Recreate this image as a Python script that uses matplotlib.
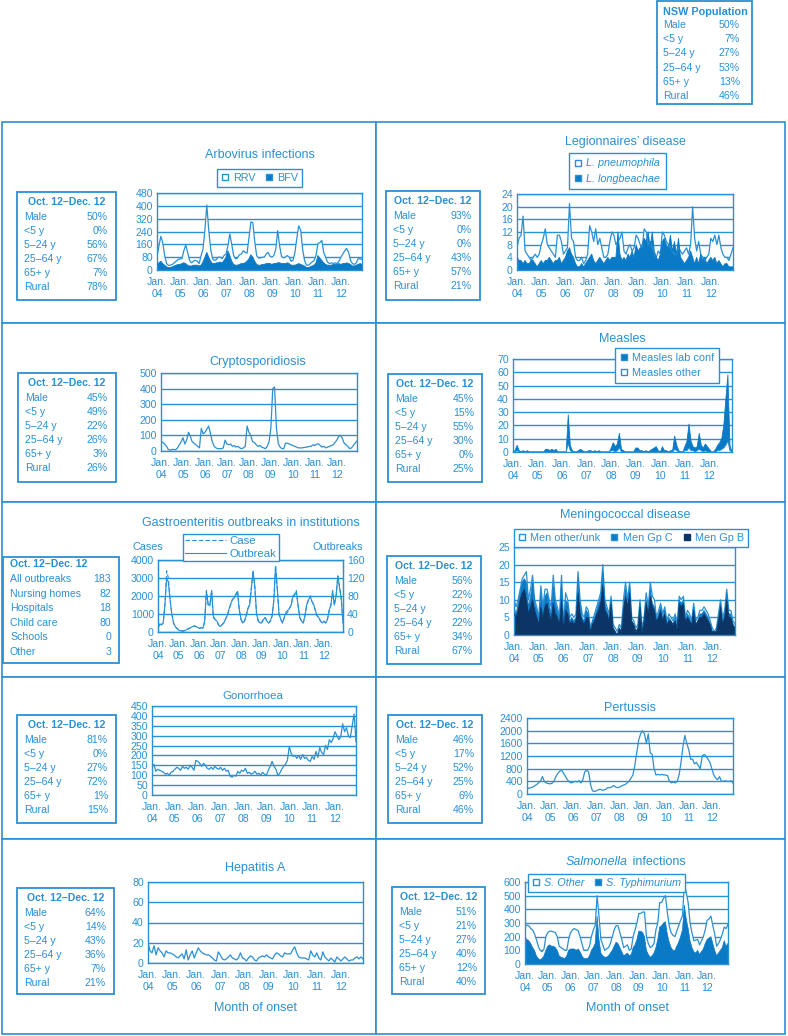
import numpy as np
import matplotlib
matplotlib.use('Agg')
import matplotlib.pyplot as plt
from matplotlib.lines import Line2D
from matplotlib.patches import Rectangle

plt.rcParams['font.family'] = ['Liberation Sans', 'DejaVu Sans']

# ---------------------------------------------------------------- data
years = ['04', '05', '06', '07', '08', '09', '10', '11', '12']
months = np.arange(108)

stat_rows = ['Male', '<5 y', '5–24 y', '25–64 y', '65+ y', 'Rural']
gastro_rows = ['All outbreaks', 'Nursing homes', 'Hospitals', 'Child care',
               'Schools', 'Other']

nsw_pop = ['50%', '7%', '27%', '53%', '13%', '46%']
arbo_stats = ['50%', '0%', '56%', '67%', '7%', '78%']
legion_stats = ['93%', '0%', '0%', '43%', '57%', '21%']
crypto_stats = ['45%', '49%', '22%', '26%', '3%', '26%']
measles_stats = ['45%', '15%', '55%', '30%', '0%', '25%']
gastro_stats = ['183', '82', '18', '80', '0', '3']
mening_stats = ['56%', '22%', '22%', '22%', '34%', '67%']
gono_stats = ['81%', '0%', '27%', '72%', '1%', '15%']
pert_stats = ['46%', '17%', '52%', '25%', '6%', '46%']
hepa_stats = ['64%', '14%', '43%', '36%', '7%', '21%']
salm_stats = ['51%', '21%', '27%', '40%', '12%', '40%']

# monthly counts, Jan 2004 - Dec 2012
rrv = [80, 150, 210, 170, 90, 40, 28, 30, 35, 45, 55, 65,
       70, 70, 120, 155, 110, 60, 45, 55, 60, 55, 40, 90,
       130, 250, 405, 250, 130, 70, 60, 65, 80, 80, 70, 90,
       100, 150, 225, 160, 90, 70, 75, 95, 100, 120, 110, 105,
       200, 300, 295, 180, 90, 75, 75, 80, 80, 100, 110, 85,
       80, 90, 130, 245, 150, 85, 75, 80, 90, 80, 55, 60,
       110, 200, 275, 250, 130, 60, 30, 30, 40, 50, 60, 90,
       165, 170, 185, 110, 80, 50, 40, 45, 40, 45, 40, 55,
       80, 100, 120, 135, 110, 60, 40, 35, 45, 70, 70, 65]
bfv = [30, 45, 55, 40, 30, 20, 15, 15, 20, 25, 30, 35,
       35, 40, 45, 40, 30, 25, 25, 30, 30, 30, 25, 30,
       50, 80, 110, 80, 55, 40, 40, 45, 45, 50, 45, 60,
       80, 120, 90, 55, 35, 30, 30, 35, 40, 40, 45, 55,
       70, 95, 80, 55, 35, 30, 30, 35, 35, 40, 40, 40,
       35, 40, 40, 45, 45, 40, 40, 40, 45, 40, 30, 30,
       30, 35, 40, 35, 30, 25, 15, 15, 20, 25, 30, 45,
       90, 75, 60, 45, 35, 30, 30, 30, 35, 35, 35, 40,
       35, 40, 40, 45, 40, 35, 25, 25, 30, 35, 40, 35]

l_pneumophila = [7, 10, 11, 17, 6, 5, 4, 3, 4, 5, 4, 5,
                 8, 10, 13, 8, 7, 6, 5, 4, 11, 11, 9, 5,
                 6, 7, 21, 10, 9, 4, 3, 3, 4, 2, 3, 5,
                 14, 12, 9, 13, 8, 10, 7, 4, 4, 5, 9, 12,
                 11, 8, 9, 10, 12, 6, 5, 7, 8, 6, 7, 11,
                 10, 8, 7, 13, 12, 8, 9, 7, 5, 4, 6, 5,
                 12, 11, 9, 8, 7, 6, 5, 5, 7, 6, 5, 6,
                 7, 5, 8, 20, 10, 6, 9, 5, 4, 3, 4, 5,
                 10, 9, 11, 8, 11, 7, 5, 4, 4, 3, 5, 7]
l_longbeachae = [4, 3, 3, 2, 3, 2, 2, 3, 3, 2, 1, 2,
                 3, 2, 3, 3, 4, 3, 2, 3, 3, 4, 2, 3,
                 4, 6, 7, 5, 4, 2, 1, 1, 2, 1, 2, 3,
                 4, 5, 3, 2, 3, 4, 3, 2, 3, 4, 3, 4,
                 4, 4, 12, 5, 3, 4, 3, 5, 4, 6, 4, 8,
                 6, 7, 8, 10, 9, 12, 7, 12, 6, 4, 3, 5,
                 9, 10, 8, 7, 11, 6, 9, 5, 10, 4, 3, 2,
                 3, 4, 6, 4, 2, 4, 2, 5, 3, 4, 2, 3,
                 4, 3, 4, 2, 3, 2, 1, 2, 2, 1, 1, 1]

crypto = [60, 55, 45, 30, 10, 5, 10, 10, 8, 20, 40, 60,
          85, 45, 70, 120, 95, 60, 50, 40, 30, 20, 145, 110,
          120, 140, 160, 110, 60, 30, 20, 15, 15, 15, 20, 70,
          45, 40, 45, 30, 35, 25, 30, 20, 15, 20, 30, 160,
          120, 100, 60, 55, 40, 30, 35, 25, 20, 15, 30, 60,
          150, 400, 410, 150, 50, 25, 15, 15, 50, 50, 45, 40,
          35, 30, 25, 20, 20, 20, 22, 25, 25, 30, 30, 40,
          35, 45, 45, 35, 25, 30, 20, 25, 30, 35, 40, 55,
          70, 95, 100, 80, 50, 40, 30, 15, 20, 35, 50, 65]

measles_lab = [0, 1, 5, 1, 0, 1, 0, 1, 0, 0, 0, 0,
               0, 0, 0, 0, 2, 2, 1, 2, 1, 2, 0, 0,
               0, 0, 0, 28, 5, 1, 0, 0, 1, 2, 1, 0,
               0, 1, 1, 0, 1, 0, 1, 0, 0, 0, 0, 0,
               3, 7, 4, 6, 14, 2, 1, 0, 0, 0, 0, 0,
               3, 3, 1, 1, 0, 1, 0, 1, 2, 3, 4, 1,
               0, 4, 1, 1, 0, 1, 1, 12, 5, 1, 0, 0,
               4, 8, 21, 8, 4, 3, 4, 14, 5, 3, 6, 4,
               2, 0, 0, 2, 5, 7, 10, 20, 40, 58, 5, 0]
measles_other = [0, 0, 1, 0, 0, 0, 0, 0, 0, 0, 0, 0,
                 0, 0, 0, 0, 0, 0, 0, 0, 0, 0, 0, 0,
                 0, 0, 0, 6, 1, 0, 0, 0, 0, 0, 0, 0,
                 0, 0, 0, 0, 0, 0, 0, 0, 0, 0, 0, 0,
                 1, 1, 0, 1, 3, 0, 0, 0, 0, 0, 0, 0,
                 0, 0, 0, 0, 0, 0, 0, 0, 0, 0, 0, 0,
                 0, 0, 0, 0, 0, 0, 0, 2, 1, 0, 0, 0,
                 1, 1, 3, 1, 1, 0, 1, 2, 1, 0, 1, 0,
                 0, 0, 0, 0, 1, 1, 2, 3, 5, 8, 1, 0]

gastro_cases = [200, 500, 400, 500, 1500, 3400, 3000, 1800, 1000, 500, 300, 200,
                100, 80, 50, 60, 100, 150, 200, 250, 300, 350, 300, 250,
                200, 250, 200, 600, 2300, 1500, 1500, 2300, 800, 700, 600, 400,
                300, 400, 500, 700, 900, 1200, 1500, 1800, 1900, 2100, 2300, 1200,
                700, 500, 600, 900, 1300, 1600, 2500, 3400, 2500, 1000, 600, 500,
                500, 700, 800, 600, 500, 600, 900, 1800, 3700, 2400, 1000, 700,
                500, 800, 1000, 1100, 1300, 1500, 2000, 2100, 2300, 1500, 800, 600,
                500, 900, 1500, 1800, 2000, 1700, 1500, 1200, 900, 800, 600, 500,
                600, 500, 700, 1200, 1500, 2300, 1500, 2000, 3100, 2500, 1800, 500]
gastro_outbreaks = [8, 18, 16, 20, 60, 120, 110, 70, 40, 20, 12, 8,
                    4, 3, 2, 3, 4, 6, 8, 10, 12, 13, 12, 10,
                    8, 10, 8, 25, 90, 62, 58, 92, 35, 28, 25, 16,
                    12, 16, 20, 28, 36, 50, 62, 72, 76, 82, 90, 50,
                    28, 20, 24, 36, 52, 60, 95, 135, 100, 40, 24, 20,
                    22, 28, 32, 24, 20, 25, 36, 70, 145, 95, 40, 28,
                    20, 32, 44, 48, 52, 60, 78, 82, 90, 60, 32, 24,
                    20, 36, 60, 70, 80, 68, 62, 48, 36, 32, 24, 20,
                    24, 20, 28, 48, 60, 90, 60, 80, 125, 100, 72, 20]

men_total = [10, 8, 10, 13, 16, 17, 18, 10, 13, 17, 10, 8,
             5, 14, 8, 13, 13, 10, 8, 17, 10, 8, 5, 17,
             3, 12, 10, 5, 6, 5, 6, 18, 10, 6, 5, 8,
             7, 2, 4, 6, 8, 10, 12, 20, 10, 8, 6, 11,
             3, 2, 1, 3, 2, 10, 15, 10, 15, 5, 4, 2,
             3, 10, 2, 5, 12, 8, 15, 11, 10, 5, 7, 9,
             6, 8, 4, 6, 5, 4, 6, 3, 11, 10, 11, 5,
             7, 6, 4, 9, 4, 5, 7, 7, 8, 7, 6, 4,
             2, 1, 2, 6, 10, 5, 7, 13, 7, 7, 4, 3]
men_gp_b = [6, 5, 7, 10, 12, 13, 10, 6, 8, 10, 7, 5,
            3, 8, 5, 8, 9, 6, 4, 9, 6, 5, 3, 10,
            2, 7, 6, 3, 4, 3, 4, 12, 6, 4, 3, 5,
            5, 1, 3, 4, 6, 7, 9, 14, 7, 6, 4, 9,
            2, 1, 0, 2, 1, 7, 11, 8, 12, 4, 3, 1,
            2, 8, 1, 4, 9, 6, 11, 8, 7, 4, 5, 7,
            4, 6, 3, 4, 4, 3, 4, 2, 9, 8, 9, 4,
            5, 4, 3, 7, 3, 4, 5, 5, 6, 5, 4, 3,
            1, 1, 1, 4, 8, 3, 5, 10, 5, 5, 3, 2]
men_gp_c = [2, 1, 2, 2, 3, 3, 5, 2, 3, 5, 2, 2,
            1, 4, 2, 3, 3, 3, 2, 5, 3, 2, 1, 5,
            1, 3, 3, 1, 1, 1, 1, 4, 3, 1, 1, 2,
            1, 0, 1, 1, 1, 2, 2, 4, 2, 1, 1, 1,
            0, 0, 0, 0, 0, 1, 2, 1, 2, 0, 0, 0,
            0, 1, 0, 0, 1, 1, 2, 1, 1, 0, 1, 1,
            1, 1, 0, 1, 0, 0, 1, 0, 1, 1, 1, 0,
            1, 1, 0, 1, 0, 0, 1, 1, 1, 1, 1, 0,
            0, 0, 0, 1, 1, 1, 1, 2, 1, 1, 0, 0]

gono = [140, 155, 120, 130, 125, 120, 115, 105, 110, 100, 115, 120,
        130, 140, 135, 125, 145, 135, 140, 130, 150, 140, 125, 175,
        170, 160, 145, 160, 150, 135, 130, 140, 130, 145, 135, 130,
        140, 125, 135, 120, 125, 95, 90, 100, 95, 120, 110, 125,
        120, 135, 110, 115, 105, 110, 120, 105, 110, 100, 115, 105,
        100, 125, 145, 170, 145, 130, 100, 110, 130, 145, 155, 175,
        245, 210, 195, 200, 185, 200, 180, 205, 185, 190, 175, 170,
        195, 180, 220, 190, 240, 215, 205, 250, 230, 280, 265, 285,
        320, 300, 280, 295, 360, 320, 340, 300, 290, 350, 410, 270]

pertussis = [200, 180, 200, 220, 260, 300, 350, 400, 550, 400, 350, 330,
             320, 340, 400, 550, 650, 720, 750, 650, 550, 450, 380, 350,
             380, 400, 380, 420, 350, 450, 700, 750, 700, 300, 100, 80,
             100, 130, 150, 120, 130, 150, 200, 200, 220, 270, 220, 200,
             220, 250, 280, 300, 350, 400, 500, 600, 900, 1300, 1700, 1900,
             2000, 1900, 1600, 1900, 1300, 1250, 800, 600, 620, 600, 620, 600,
             600, 580, 400, 350, 380, 350, 400, 600, 1000, 1500, 1850, 1600,
             1400, 1100, 1100, 950, 1000, 900, 800, 1200, 1250, 1200, 1100, 1000,
             800, 600, 500, 450, 550, 400, 400, 420, 400, 400, 420, 350]

hep_a = [20, 12, 10, 17, 8, 15, 12, 10, 6, 12, 10, 10,
         9, 8, 6, 5, 7, 9, 4, 13, 3, 8, 12, 5,
         10, 15, 12, 10, 9, 8, 8, 7, 5, 3, 2, 11,
         8, 4, 3, 4, 6, 8, 5, 4, 3, 5, 10, 5,
         4, 2, 5, 7, 6, 3, 2, 5, 6, 7, 6, 8,
         6, 5, 4, 8, 10, 9, 7, 6, 10, 9, 9, 9,
         13, 16, 10, 6, 5, 5, 5, 4, 3, 12, 8, 6,
         10, 5, 3, 11, 6, 4, 2, 5, 3, 1, 6, 4,
         2, 4, 6, 4, 2, 3, 3, 5, 6, 4, 6, 4]

s_other = [270, 285, 280, 260, 250, 220, 180, 130, 100, 90, 110, 200,
           230, 240, 240, 235, 230, 200, 130, 120, 110, 100, 100, 180,
           230, 250, 260, 250, 245, 200, 150, 100, 100, 100, 130, 200,
           250, 280, 500, 350, 180, 140, 100, 110, 120, 150, 200, 250,
           280, 280, 230, 180, 120, 130, 140, 100, 110, 200, 250, 300,
           370, 370, 380, 380, 200, 150, 120, 130, 150, 250, 300, 450,
           450, 480, 500, 380, 280, 230, 210, 200, 240, 280, 320, 350,
           590, 520, 450, 300, 230, 170, 175, 180, 140, 170, 200, 250,
           320, 330, 350, 280, 220, 130, 150, 180, 220, 270, 260, 290]
s_typhimurium = [190, 180, 170, 150, 120, 100, 60, 40, 30, 40, 60, 100,
                 130, 140, 130, 130, 120, 100, 60, 50, 45, 40, 60, 100,
                 110, 110, 110, 100, 110, 90, 60, 40, 40, 40, 60, 100,
                 120, 150, 350, 180, 80, 60, 50, 50, 60, 80, 100, 130,
                 160, 150, 120, 90, 60, 70, 80, 60, 70, 120, 140, 180,
                 240, 240, 230, 200, 100, 70, 50, 60, 80, 120, 180, 270,
                 280, 300, 310, 220, 160, 120, 100, 100, 130, 160, 200, 250,
                 430, 330, 260, 170, 120, 90, 80, 100, 70, 90, 110, 150,
                 180, 190, 200, 150, 100, 60, 80, 100, 120, 170, 130, 150]

# ---------------------------------------------------------------- style
W, H = 788, 1036
BLUE = '#2a90d4'
FILL = '#0b7ac6'
NAVY = '#0c3566'
TXT = 7.6

fig = plt.figure(figsize=(W / 100, H / 100), dpi=100)


def rect(x0, y0, x1, y1):
    return [x0 / W, 1 - y1 / H, (x1 - x0) / W, (y1 - y0) / H]


def ftext(x, y, s, **kw):
    opts = dict(color=BLUE, fontsize=TXT, va='center')
    opts.update(kw)
    fig.text(x / W, 1 - y / H, s, **opts)


def frame(x0, y0, x1, y1, lw=1.3):
    fig.add_artist(Rectangle((x0 / W, 1 - y1 / H), (x1 - x0) / W, (y1 - y0) / H,
                             transform=fig.transFigure, fc='white', ec=BLUE,
                             lw=lw, zorder=0))


def stat_box(x0, y0, x1, y1, labels, values, head='Oct. 12–Dec. 12',
             head_x=None, head_dy=10, row_dy=25, step=14):
    frame(x0, y0, x1, y1)
    if head_x is None:
        ftext((x0 + x1) / 2, y0 + head_dy, head, ha='center', weight='bold')
    else:
        ftext(head_x, y0 + head_dy, head, ha='left', weight='bold')
    for i, (lab, val) in enumerate(zip(labels, values)):
        y = y0 + row_dy + i * step
        ftext(x0 + 7, y, lab, ha='left')
        ftext(x1 - 8, y, val, ha='right')


def chart(box, ymax, ystep):
    ax = fig.add_axes(rect(*box))
    ax.set_xlim(0, 107)
    ax.set_ylim(0, ymax)
    ax.set_yticks(np.arange(0, ymax + 1, ystep))
    ax.set_xticks(range(0, 108, 12))
    ax.set_xticklabels(['Jan.\n' + y for y in years], linespacing=1.3)
    ax.yaxis.grid(True, color=BLUE, lw=1.0)
    ax.set_axisbelow(True)
    for s in ax.spines.values():
        s.set_color(BLUE)
        s.set_linewidth(1.0)
    ax.tick_params(axis='y', colors=BLUE, labelsize=7.6, length=0, pad=3)
    ax.tick_params(axis='x', colors=BLUE, labelsize=7.6, length=0, pad=5)
    return ax


def area(ax, vals, face, edge=BLUE, lw=0.9):
    ax.fill_between(months, 0, vals, fc=face, ec='none', zorder=2)
    ax.plot(months, vals, color=edge, lw=lw, zorder=3)


def sq(face):
    return Line2D([], [], marker='s', ls='none', mfc=face, mec=BLUE,
                  mew=1.0, ms=5)


def legend(handles, labels, x0, y0, ncol=1, italic=False, **kw):
    prop = {'size': 7.8, 'style': 'italic' if italic else 'normal'}
    opts = dict(loc='upper left', bbox_to_anchor=(x0 / W, 1 - y0 / H),
                bbox_transform=fig.transFigure, ncol=ncol, frameon=True,
                fancybox=False, edgecolor=BLUE, framealpha=1, prop=prop,
                labelcolor=BLUE, borderaxespad=0, handlelength=0.7,
                handletextpad=0.4, columnspacing=0.9, borderpad=0.35,
                labelspacing=0.35)
    opts.update(kw)
    leg = fig.legend(handles, labels, **opts)
    leg.get_frame().set_linewidth(1.0)
    return leg


# ---------------------------------------------------------------- panels
for x0, x1 in [(2, 376), (376, 785)]:
    for y0, y1 in [(122, 323), (323, 502), (502, 677), (677, 839), (839, 1034)]:
        frame(x0, y0, x1, y1, lw=1.2)

# NSW population
frame(657, 1, 752, 104)
ftext(663, 12, 'NSW Population', ha='left', weight='bold', fontsize=7.8)
for i, (lab, val) in enumerate(zip(stat_rows, nsw_pop)):
    ftext(663, 25 + i * 14.2, lab, ha='left', fontsize=7.6)
    ftext(740, 25 + i * 14.2, val, ha='right', fontsize=7.6)

# Arbovirus
ax = chart((157, 193, 362, 270), 480, 80)
area(ax, rrv, 'white')
area(ax, bfv, FILL, FILL, 0.6)
ftext(260, 155, 'Arbovirus infections', ha='center', fontsize=9)
legend([sq('white'), sq(FILL)], ['RRV', 'BFV'], 217, 169, ncol=2)
stat_box(17, 192, 116, 300, stat_rows, arbo_stats)

# Legionnaires
ax = chart((517, 194, 733, 270), 24, 4)
area(ax, l_pneumophila, 'white')
area(ax, l_longbeachae, FILL, FILL, 0.6)
ftext(625, 142, 'Legionnaires’ disease', ha='center', fontsize=9)
legend([sq('white'), sq(FILL)], ['L. pneumophila', 'L. longbeachae'],
       569, 153, italic=True, borderpad=0.5, labelspacing=0.5)
stat_box(386, 191, 480, 300, stat_rows, legion_stats)

# Cryptosporidiosis
ax = chart((161, 373, 357, 451), 500, 100)
ax.plot(months, crypto, color=BLUE, lw=0.9)
ftext(258, 362, 'Cryptosporidiosis', ha='center', fontsize=9)
stat_box(18, 373, 116, 482, stat_rows, crypto_stats)

# Measles
ax = chart((513, 359, 732, 452), 70, 10)
area(ax, measles_lab, FILL, FILL, 0.6)
area(ax, measles_other, 'white', BLUE, 0.6)
ftext(622, 339, 'Measles', ha='center', fontsize=9)
legend([sq(FILL), sq('white')], ['Measles lab conf', 'Measles other'],
       615, 348, borderpad=0.45, labelspacing=0.45)
stat_box(388, 374, 482, 482, stat_rows, measles_stats)

# Gastroenteritis outbreaks
ax = chart((158, 560, 343, 632), 4000, 1000)
ax.plot(months, gastro_cases, color=BLUE, lw=0.8, dashes=(4, 2))
ax2 = ax.twinx()
ax2.set_ylim(0, 160)
ax2.set_yticks(np.arange(0, 161, 40))
ax2.tick_params(axis='y', colors=BLUE, labelsize=7.6, length=0, pad=3)
for s in ax2.spines.values():
    s.set_color(BLUE)
ax2.plot(months, gastro_outbreaks, color=BLUE, lw=0.8)
ftext(251, 523, 'Gastroenteritis outbreaks in institutions', ha='center',
      fontsize=9)
ftext(148, 547, 'Cases', ha='center', fontsize=7.8)
ftext(338, 547, 'Outbreaks', ha='center', fontsize=7.8)
legend([Line2D([], [], color=BLUE, lw=0.8, dashes=(4, 2)),
        Line2D([], [], color=BLUE, lw=0.8)], ['Case', 'Outbreak'],
       183, 534, handlelength=3.6, handletextpad=0.3, borderpad=0.2,
       labelspacing=0.25, prop={'size': 8.2})
stat_box(3, 557, 119, 663, gastro_rows, gastro_stats, head_x=10,
         head_dy=7, row_dy=22, step=14.6)

# Meningococcal
ax = chart((514, 547, 735, 635), 25, 5)
bc = np.array(men_gp_b) + np.array(men_gp_c)
area(ax, men_total, 'white')
area(ax, bc, FILL, FILL, 0.5)
area(ax, men_gp_b, NAVY, NAVY, 0.5)
ftext(625, 515, 'Meningococcal disease', ha='center', fontsize=9)
legend([sq('white'), sq(FILL),
        Line2D([], [], marker='s', ls='none', mfc=NAVY, mec=NAVY, ms=5)],
       ['Men other/unk', 'Men Gp C', 'Men Gp B'], 514, 529, ncol=3,
       columnspacing=1.0)
stat_box(387, 556, 481, 664, stat_rows, mening_stats)

# Gonorrhoea
ax = chart((152, 706, 356, 795), 450, 50)
ax.plot(months, gono, color=BLUE, lw=0.9)
ftext(253, 696, 'Gonorrhoea', ha='center', fontsize=8.2)
stat_box(17, 715, 116, 823, stat_rows, gono_stats)

# Pertussis
ax = chart((527, 718, 733, 794), 2400, 400)
ax.plot(months, pertussis, color=BLUE, lw=0.9)
ftext(630, 708, 'Pertussis', ha='center', fontsize=9)
stat_box(388, 715, 482, 823, stat_rows, pert_stats)

# Hepatitis A
ax = chart((148, 882, 363, 963), 80, 20)
ax.plot(months, hep_a, color=BLUE, lw=0.9)
ftext(255, 868, 'Hepatitis A', ha='center', fontsize=9)
ftext(255, 1008, 'Month of onset', ha='center', fontsize=9)
stat_box(17, 888, 114, 994, stat_rows, hepa_stats)

# Salmonella
ax = chart((525, 882, 728, 964), 600, 100)
area(ax, s_other, 'white')
area(ax, s_typhimurium, FILL, FILL, 0.5)
ftext(628, 862, 'Salmonella', ha='right', fontsize=9, style='italic')
ftext(629, 862, ' infections', ha='left', fontsize=9)
legend([sq('white'), sq(FILL)], ['S. Other', 'S. Typhimurium'], 528, 874,
       ncol=2, italic=True)
ftext(627, 1008, 'Month of onset', ha='center', fontsize=9)
stat_box(392, 887, 485, 994, stat_rows, salm_stats)

fig.savefig('out.png', dpi=100, facecolor='white')
